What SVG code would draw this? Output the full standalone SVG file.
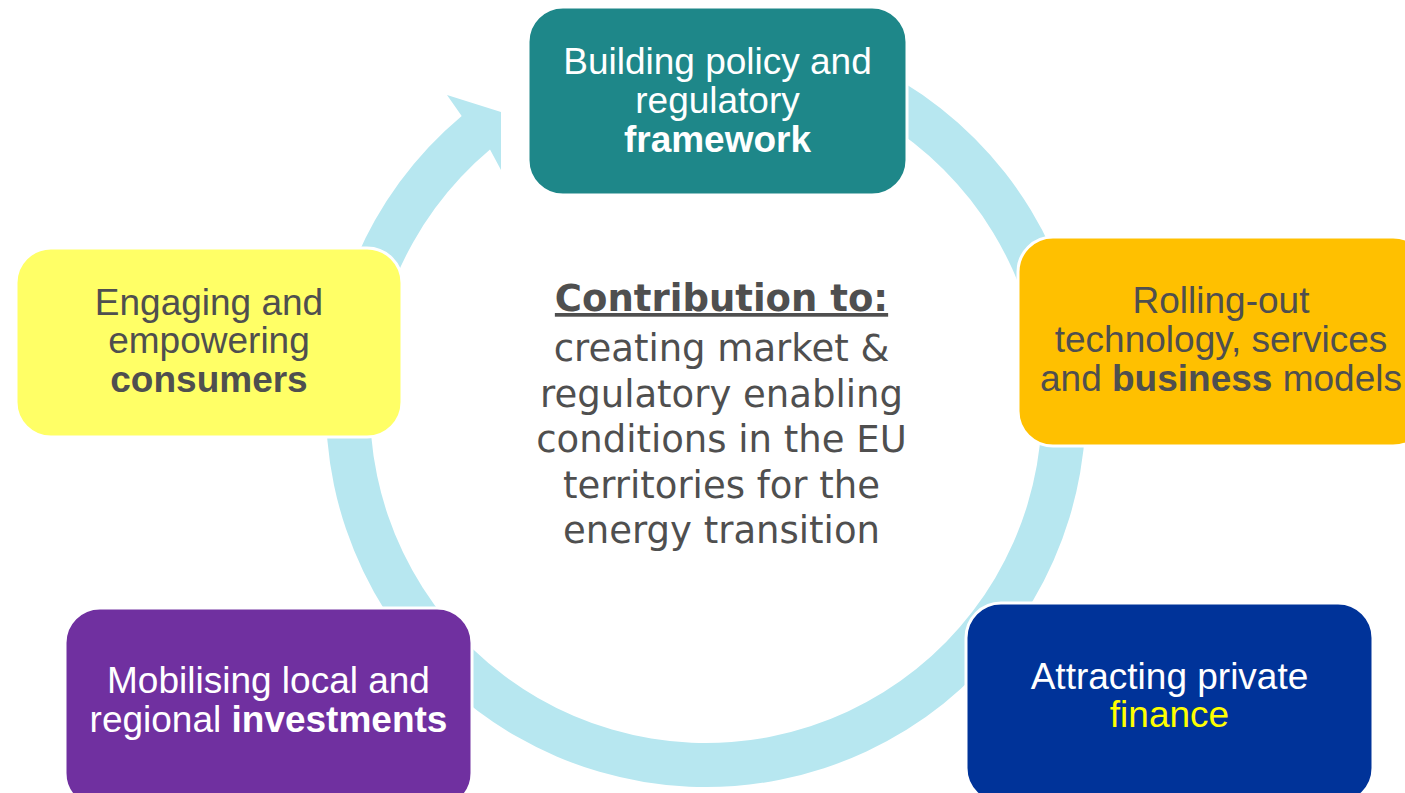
<svg xmlns="http://www.w3.org/2000/svg" width="1405" height="793" viewBox="0 0 1405 793">
<style>
.box{stroke:#ffffff;stroke-width:3}
.t{font-family:"Liberation Sans",Arial,sans-serif;font-size:37px;text-anchor:middle}
.w{fill:#ffffff}
.g{fill:#4f4f4f}
.b{font-weight:bold}
.c{font-family:"DejaVu Sans",Verdana,sans-serif;font-size:37px;text-anchor:middle;fill:#4f4f4f}
</style>
<rect width="1405" height="793" fill="#ffffff"/>
<g id="connectors">
<path id="cycle-arrow" fill="#b7e7f0" d="M640,32.8 A380,380 0 1 1 461.7,115.9 L447,95 L501,112 L501,170 L490,149.6 A336,336 0 1 0 647.65,76.1 Z"/>
</g>
<g id="node-policy">
<rect class="box" x="528" y="7" width="379" height="188" rx="35" fill="#1e8789"/>
<text class="t w" x="717.5" y="74">Building policy and</text>
<text class="t w" x="717.5" y="113">regulatory</text>
<text class="t w b" x="717.5" y="152">framework</text>
</g>
<g id="node-technology">
<rect class="box" x="1018" y="237" width="410" height="209" rx="35" fill="#ffc000"/>
<text class="t g" x="1221" y="313">Rolling-out</text>
<text class="t g" x="1221" y="352">technology, services</text>
<text class="t g" x="1221" y="391">and <tspan class="b">business</tspan> models</text>
</g>
<g id="node-finance">
<rect class="box" x="966" y="603" width="407" height="200" rx="35" fill="#003399"/>
<text class="t w" x="1169.5" y="689">Attracting private</text>
<text class="t" x="1169.5" y="727" fill="#ffff00">finance</text>
</g>
<g id="node-investments">
<rect class="box" x="65" y="608" width="407" height="200" rx="35" fill="#7030a0"/>
<text class="t w" x="268.5" y="693">Mobilising local and</text>
<text class="t w" x="268.5" y="732">regional <tspan class="b">investments</tspan></text>
</g>
<g id="node-consumers">
<rect class="box" x="16" y="248" width="386" height="189" rx="35" fill="#ffff66"/>
<text class="t g" x="209" y="315">Engaging and</text>
<text class="t g" x="209" y="353">empowering</text>
<text class="t g b" x="209" y="392">consumers</text>
</g>
<g id="center-text">
<text class="c" x="721.5" y="311" font-weight="bold" text-decoration="underline">Contribution to:</text>
<text class="c" x="721.5" y="361">creating market &amp;</text>
<text class="c" x="721.5" y="407">regulatory enabling</text>
<text class="c" x="721.5" y="452">conditions in the EU</text>
<text class="c" x="721.5" y="498">territories for the</text>
<text class="c" x="721.5" y="543">energy transition</text>
</g>
</svg>
